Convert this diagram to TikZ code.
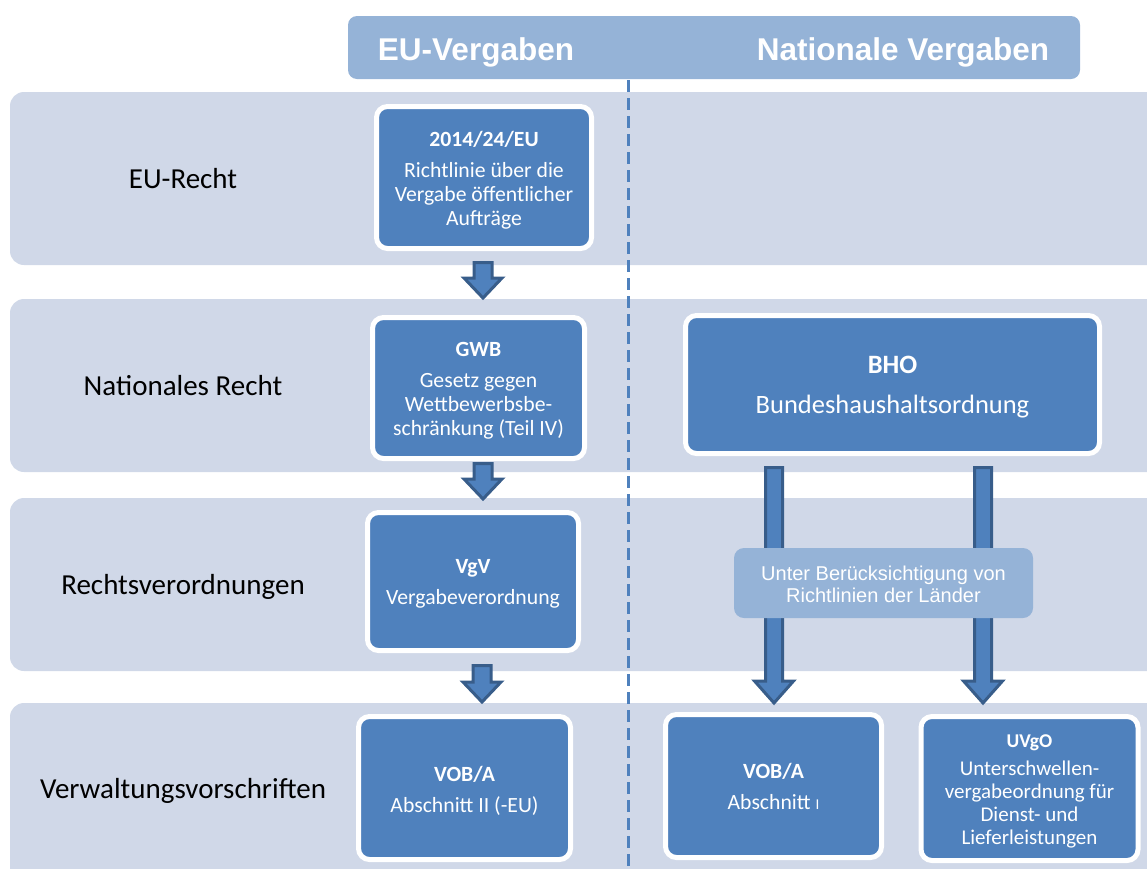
\documentclass[tikz,border=0pt]{standalone}
\usepackage{fontspec}
\setmainfont{Carlito}
\newfontfamily\arialfont{Liberation Sans}
\usetikzlibrary{calc}
\definecolor{bandc}{HTML}{D0D8E8}
\definecolor{headc}{HTML}{95B3D7}
\definecolor{boxc}{HTML}{4F81BD}
\definecolor{darkc}{HTML}{385D8A}
\newcommand\blockarrow[5]{%
  \draw[blockarr] ($(#1)+(-#3,0)$) -- ($(#2)+(-#3,-#5)$) -- ($(#2)+(-#4,-#5)$) -- (#2)
    -- ($(#2)+(#4,-#5)$) -- ($(#2)+(#3,-#5)$) -- ($(#1)+(#3,0)$) -- cycle;}
\newcommand\topgap[1]{\rule{0pt}{#1}}
\begin{document}
\begin{tikzpicture}[x=1pt,y=-1pt,
  band/.style={fill=bandc, rounded corners=14pt},
  lawbox/.style={draw=white, line width=5pt, fill=boxc, rounded corners=11pt, text=white,
    align=center, inner sep=0pt, font=\fontsize{21.7}{24}\selectfont},
  rowlabel/.style={anchor=base, font=\fontsize{29}{34}\selectfont, text=black},
  headtext/.style={anchor=base, text=white, font=\arialfont\bfseries\fontsize{31.5}{36}\selectfont},
  blockarr/.style={fill=boxc, draw=darkc, line width=3pt, line join=miter},
  dividerline/.style={draw=boxc, line width=3pt, dash pattern=on 12pt off 6pt}]
\useasboundingbox (0,0) rectangle (1147,868);
% row bands
\fill[band] (10,92) rectangle (1180,265);
\fill[band] (10,299) rectangle (1180,472);
\fill[band] (10,498) rectangle (1180,671);
\fill[band] (10,703) rectangle (1180,900);
% header
\node[fill=headc, rounded corners=9pt, minimum width=732pt, minimum height=63pt, inner sep=0pt] (head) at (714,47.5) {};
\node[headtext] (euh) at (476,60) {EU-Vergaben};
\node[headtext] (nath) at (903,60) {Nationale Vergaben};
% divider
\coordinate (dtop) at (628,80);
\coordinate (dbot) at (628,875);
\draw[dividerline] (dtop) -- (dbot);
% row labels
\node[rowlabel] (l1) at (183,188) {EU-Recht};
\node[rowlabel] (l2) at (183,395) {Nationales Recht};
\node[rowlabel] (l3) at (183,594) {Rechtsverordnungen};
\node[rowlabel] (l4) at (183,798) {Verwaltungsvorschriften};
% boxes
\node[lawbox, minimum width=215pt, minimum height=142pt] (eu) at (484,177.5)
  {\topgap{21pt}\textbf{2014/24/EU}\\[7pt]Richtlinie über die\\Vergabe öffentlicher\\Aufträge};
\node[lawbox, minimum width=212pt, minimum height=141pt] (gwb) at (478.5,388)
  {\topgap{20pt}\textbf{GWB}\\[7pt]Gesetz gegen\\Wettbewerbsbe-\\schränkung (Teil IV)};
\node[lawbox, minimum width=211pt, minimum height=138pt] (vgv) at (473,581.5)
  {\topgap{19pt}\textbf{VgV}\\[7pt]Vergabeverordnung};
\node[lawbox, minimum width=212pt, minimum height=143pt] (vobeu) at (464.5,788)
  {\topgap{21pt}\textbf{VOB/A}\\[7pt]Abschnitt II (-EU)};
\node[lawbox, minimum width=414pt, minimum height=138pt, font=\fontsize{26.5}{32}\selectfont] (bho) at (892.5,384.5)
  {\topgap{23pt}\textbf{BHO}\\[8pt]Bundeshaushaltsordnung};
\node[lawbox, minimum width=216pt, minimum height=143pt] (vobn) at (773.5,786)
  {\topgap{17pt}\textbf{VOB/A}\\[7pt]Abschnitt {\fontsize{15}{15}\selectfont I}};
\node[lawbox, minimum width=217pt, minimum height=144pt, font=\fontsize{21}{23}\selectfont] (uvgo) at (1029.5,788.5)
  {\topgap{19pt}{\fontsize{19.5}{23}\selectfont\textbf{UVgO}}\\[5pt]Unterschwellen-\\vergabeordnung für\\Dienst- und\\Lieferleistungen};
% arrow end points
\coordinate (a1s) at (483,262.5); \coordinate (a1e) at (483,298);
\coordinate (a2s) at (483,463.5); \coordinate (a2e) at (483,499);
\coordinate (a3s) at (482,665.5); \coordinate (a3e) at (482,702);
\coordinate (a4s) at (774,467.5); \coordinate (a4e) at (774,703);
\coordinate (a5s) at (983,467.5); \coordinate (a5e) at (983,703);
\blockarrow{a1s}{a1e}{9}{19}{20}
\blockarrow{a2s}{a2e}{9}{19}{20}
\blockarrow{a3s}{a3e}{9}{19}{20}
\blockarrow{a4s}{a4e}{8.5}{19.5}{22}
\blockarrow{a5s}{a5e}{8.5}{19.5}{22}
% middle note
\node[fill=headc, rounded corners=10pt, minimum width=299pt, minimum height=70pt, inner sep=0pt,
  text=white, align=center, font=\arialfont\fontsize{20}{22.5}\selectfont] (mid) at (883.5,583)
  {\topgap{17pt}Unter Berücksichtigung von\\Richtlinien der Länder};
\end{tikzpicture}
\end{document}
